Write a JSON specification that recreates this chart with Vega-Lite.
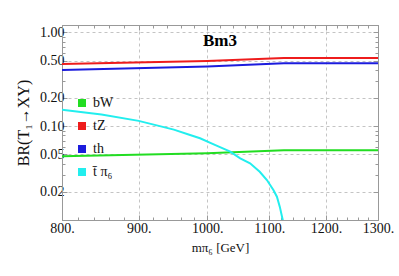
{
  "$schema": "https://vega.github.io/schema/vega-lite/v6.json",
  "width": 316,
  "height": 195,
  "autosize": {"type": "none"},
  "padding": {"left": 62, "top": 25, "right": 21, "bottom": 56},
  "background": "white",
  "title": {"text": "Bm3", "font": "Liberation Serif", "fontSize": 17, "fontWeight": "bold", "color": "black", "anchor": "middle", "baseline": "middle", "offset": 0, "dy": 33},
  "config": {
    "view": {"stroke": "#999999", "strokeWidth": 1},
    "axis": {
      "labelFont": "Liberation Serif", "labelFontSize": 14, "labelColor": "#111111",
      "titleFont": "Liberation Serif", "titleFontWeight": "normal", "titleColor": "#111111",
      "domainColor": "#999999", "tickColor": "#999999",
      "gridColor": "#c4c4c4", "gridDash": [3, 3], "gridWidth": 1
    }
  },
  "data": {"values": [
    {"m": 800, "br": 0.461, "ch": "tZ"},
    {"m": 1000, "br": 0.497, "ch": "tZ"},
    {"m": 1125, "br": 0.534, "ch": "tZ"},
    {"m": 1300, "br": 0.534, "ch": "tZ"},
    {"m": 800, "br": 0.398, "ch": "th"},
    {"m": 1000, "br": 0.433, "ch": "th"},
    {"m": 1125, "br": 0.469, "ch": "th"},
    {"m": 1300, "br": 0.469, "ch": "th"},
    {"m": 800, "br": 0.0478, "ch": "bW"},
    {"m": 1000, "br": 0.0515, "ch": "bW"},
    {"m": 1125, "br": 0.0554, "ch": "bW"},
    {"m": 1300, "br": 0.0554, "ch": "bW"},
    {"m": 800, "br": 0.150, "ch": "t̄ π₆"},
    {"m": 850, "br": 0.133, "ch": "t̄ π₆"},
    {"m": 900, "br": 0.114, "ch": "t̄ π₆"},
    {"m": 950, "br": 0.092, "ch": "t̄ π₆"},
    {"m": 974, "br": 0.0807, "ch": "t̄ π₆"},
    {"m": 989, "br": 0.0744, "ch": "t̄ π₆"},
    {"m": 1010, "br": 0.064, "ch": "t̄ π₆"},
    {"m": 1036, "br": 0.0535, "ch": "t̄ π₆"},
    {"m": 1052, "br": 0.0455, "ch": "t̄ π₆"},
    {"m": 1068, "br": 0.0402, "ch": "t̄ π₆"},
    {"m": 1084, "br": 0.0327, "ch": "t̄ π₆"},
    {"m": 1096, "br": 0.0267, "ch": "t̄ π₆"},
    {"m": 1107, "br": 0.0209, "ch": "t̄ π₆"},
    {"m": 1113, "br": 0.0177, "ch": "t̄ π₆"},
    {"m": 1118, "br": 0.0138, "ch": "t̄ π₆"},
    {"m": 1123, "br": 0.0100, "ch": "t̄ π₆"},
    {"m": 1126, "br": 0.004, "ch": "t̄ π₆"}
  ]},
  "resolve": {"axis": {"x": "independent", "y": "independent"}},
  "layer": [
    {
      "mark": {"type": "line", "strokeWidth": 2, "clip": true},
      "encoding": {
        "x": {
          "field": "m", "type": "quantitative",
          "scale": {"type": "log", "domain": [800, 1300], "nice": false},
          "axis": {"values": [800, 820, 840, 860, 880, 900, 920, 940, 960, 980, 1000, 1020, 1040, 1060, 1080, 1100, 1120, 1140, 1160, 1180, 1200, 1220, 1240, 1260, 1280, 1300],
                   "labelExpr": "datum.value % 100 == 0 ? datum.value + '.' : ''", "labelPadding": 6, "labelFlush": false, "labelOverlap": false,
                   "tickSize": {"condition": {"test": "datum.value % 100 == 0", "value": -5}, "value": -3},
                   "gridOpacity": {"condition": {"test": "datum.value % 100 == 0", "value": 1}, "value": 0},
                   "grid": true,
                   "title": "mπ₆ [GeV]", "titleFontSize": 13, "titlePadding": 4}
        },
        "y": {
          "field": "br", "type": "quantitative",
          "scale": {"type": "log", "domain": [0.01, 1.2], "nice": false},
          "axis": {"values": [0.01, 0.02, 0.03, 0.04, 0.05, 0.06, 0.07, 0.08, 0.09, 0.1, 0.2, 0.3, 0.4, 0.5, 0.6, 0.7, 0.8, 0.9, 1],
                   "labelExpr": "(datum.value == 0.02 || datum.value == 0.05 || datum.value == 0.1 || datum.value == 0.2 || datum.value == 0.5 || datum.value == 1) ? format(datum.value, '.2f') : ''",
                   "tickSize": {"condition": {"test": "datum.value == 0.02 || datum.value == 0.05 || datum.value == 0.1 || datum.value == 0.2 || datum.value == 0.5 || datum.value == 1", "value": -5}, "value": -3},
                   "gridOpacity": {"condition": {"test": "datum.value == 0.02 || datum.value == 0.05 || datum.value == 0.1 || datum.value == 0.2 || datum.value == 0.5 || datum.value == 1", "value": 1}, "value": 0},
                   "grid": true,
                   "labelPadding": 3, "labelFlush": false, "labelOverlap": false,
                   "title": "BR(T₁→XY)", "titleFontSize": 16, "titlePadding": 8}
        },
        "color": {
          "field": "ch", "type": "nominal",
          "scale": {"domain": ["bW", "tZ", "th", "t̄ π₆"], "range": ["#22dd22", "#ee1c1c", "#1c1cdd", "#22eeee"]},
          "legend": {"title": null, "orient": "none", "legendX": 13, "legendY": 71, "symbolType": "square", "symbolSize": 64, "symbolStrokeWidth": 0, "symbolOpacity": 1,
                     "labelFont": "Liberation Serif", "labelFontSize": 14, "labelColor": "#111111", "labelOffset": 4, "rowPadding": 9, "padding": 0,
                     "encode": {"symbols": {"update": {"fill": {"scale": "color", "field": "value"}, "strokeWidth": {"value": 0}, "opacity": {"value": 1}}}}}
        }
      }
    },
    {
      "mark": {"type": "line", "opacity": 0, "clip": true},
      "encoding": {
        "x": {
          "field": "m", "type": "quantitative",
          "axis": {"orient": "top", "values": [800, 820, 840, 860, 880, 900, 920, 940, 960, 980, 1000, 1020, 1040, 1060, 1080, 1100, 1120, 1140, 1160, 1180, 1200, 1220, 1240, 1260, 1280, 1300],
                   "labels": false, "title": null, "grid": false,
                   "tickSize": {"condition": {"test": "datum.value % 100 == 0", "value": -5}, "value": -3}}
        },
        "y": {
          "field": "br", "type": "quantitative",
          "axis": {"orient": "right", "values": [0.01, 0.02, 0.03, 0.04, 0.05, 0.06, 0.07, 0.08, 0.09, 0.1, 0.2, 0.3, 0.4, 0.5, 0.6, 0.7, 0.8, 0.9, 1],
                   "labels": false, "title": null, "grid": false,
                   "tickSize": {"condition": {"test": "datum.value == 0.02 || datum.value == 0.05 || datum.value == 0.1 || datum.value == 0.2 || datum.value == 0.5 || datum.value == 1", "value": -5}, "value": -3}}
        },
        "detail": {"field": "ch"}
      }
    }
  ]
}
